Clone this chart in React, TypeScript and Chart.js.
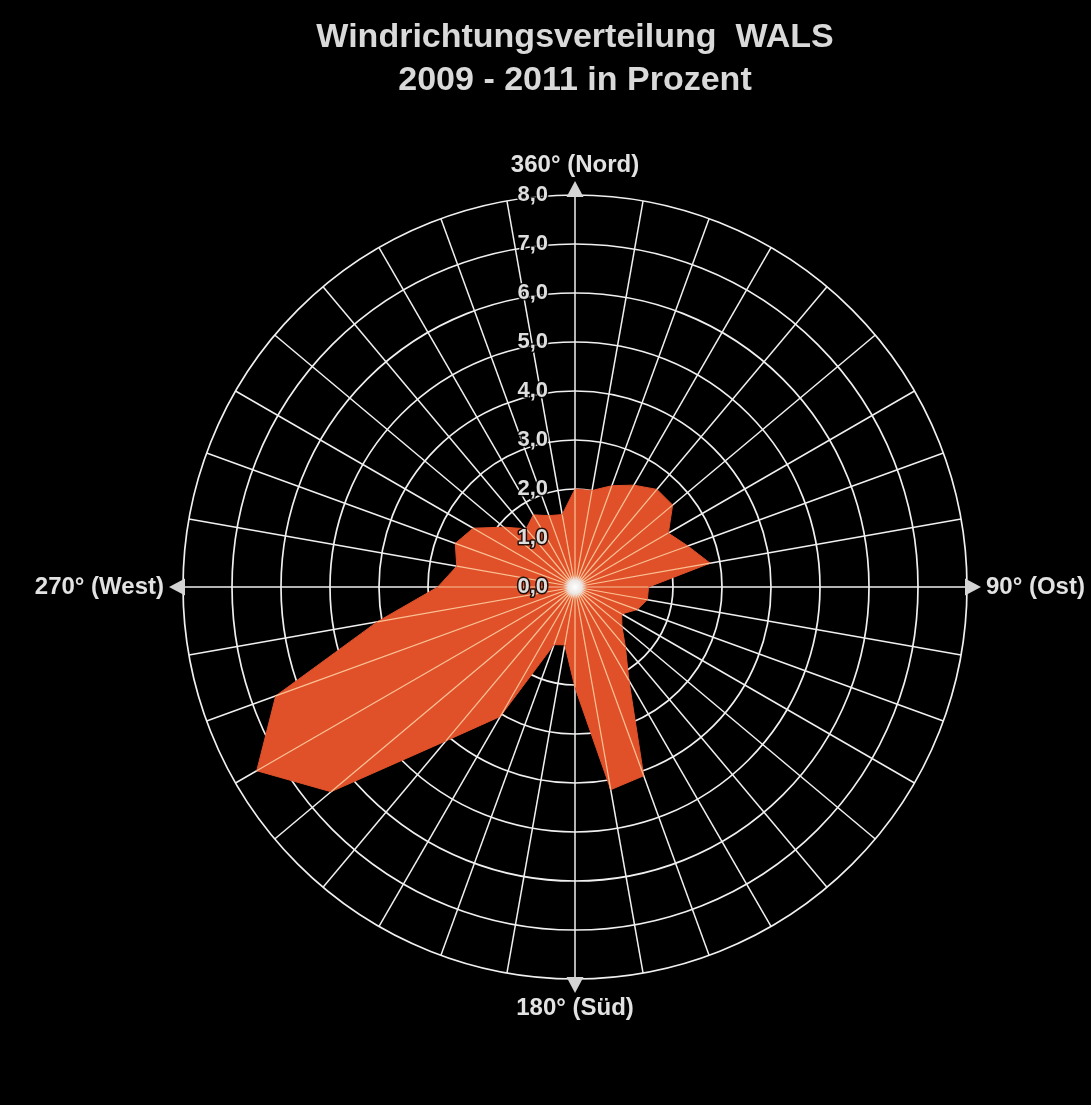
import React, { useEffect, useRef } from 'react';
import { Chart, registerables } from 'chart.js';

Chart.register(...registerables);

// Wind direction categories (degrees), starting at North, clockwise
const directions = [360, 10, 20, 30, 40, 50, 60, 70, 80, 90, 100, 110, 120, 130, 140, 150, 160, 170,
  180, 190, 200, 210, 220, 230, 240, 250, 260, 270, 280, 290, 300, 310, 320, 330, 340, 350];
const labels = directions.map((d) => `${d}°`);

// Frequency in percent per direction
const frequency = [2.0, 2.0, 2.2, 2.4, 2.6, 2.6, 2.2, 2.45, 2.8, 1.5, 1.5, 1.35, 1.1, 1.25, 1.6, 2.2, 4.1, 4.2,
  2.05, 1.2, 1.25, 3.05, 4.1, 6.5, 7.5, 6.5, 4.1, 2.8, 2.45, 2.6, 2.4, 1.9, 1.55, 1.7, 1.55, 1.5];

// Radial tick values
const tickValues = [0, 1, 2, 3, 4, 5, 6, 7, 8];

// Compass annotations
const compassIndices = [0, 9, 18, 27];
const compassTexts = ['360° (Nord)', '90° (Ost)', '180° (Süd)', '270° (West)'];

const titleLines = ['Windrichtungsverteilung  WALS', '2009 - 2011 in Prozent'];

const FONT = '"Liberation Sans", Arial, Helvetica, sans-serif';

const overlayPlugin = {
  id: 'windroseOverlay',
  afterDatasetsDraw(chart: any) {
    const ctx = chart.ctx as CanvasRenderingContext2D;
    const r = chart.scales.r;
    const cx = r.xCenter;
    const cy = r.yCenter;
    const meta = chart.getDatasetMeta(0);
    ctx.save();

    // spokes drawn over the filled area
    ctx.strokeStyle = 'rgba(255, 214, 168, 0.85)';
    ctx.lineWidth = 1.2;
    meta.data.forEach((pt: any) => {
      ctx.beginPath();
      ctx.moveTo(cx, cy);
      ctx.lineTo(pt.x, pt.y);
      ctx.stroke();
    });

    // centre glow
    const g = ctx.createRadialGradient(cx, cy, 0, cx, cy, 12);
    g.addColorStop(0, 'rgba(255,255,255,1)');
    g.addColorStop(0.55, 'rgba(235,235,235,0.95)');
    g.addColorStop(1, 'rgba(230,230,230,0)');
    ctx.fillStyle = g;
    ctx.beginPath();
    ctx.arc(cx, cy, 12, 0, Math.PI * 2);
    ctx.fill();

    // tick labels along the north axis
    ctx.font = `bold 22px ${FONT}`;
    ctx.textAlign = 'right';
    ctx.textBaseline = 'middle';
    ctx.lineJoin = 'round';
    tickValues.forEach((v) => {
      const d = r.getDistanceFromCenterForValue(v);
      const txt = v.toFixed(1).replace('.', ',');
      const x = cx - 27;
      const y = cy - d;
      ctx.lineWidth = 3;
      ctx.strokeStyle = 'rgba(0,0,0,0.85)';
      ctx.strokeText(txt, x, y);
      ctx.fillStyle = '#dedede';
      ctx.fillText(txt, x, y);
    });

    // arrows at the four main axes
    const R = r.drawingArea;
    ctx.fillStyle = '#d4d4d4';
    compassIndices.forEach((idx) => {
      const apex = r.getPointPosition(idx, R + 14);
      const base = r.getPointPosition(idx, R - 2);
      const ang = Math.atan2(apex.y - base.y, apex.x - base.x);
      const hw = 8.5;
      const px = -Math.sin(ang) * hw;
      const py = Math.cos(ang) * hw;
      ctx.beginPath();
      ctx.moveTo(apex.x, apex.y);
      ctx.lineTo(base.x + px, base.y + py);
      ctx.lineTo(base.x - px, base.y - py);
      ctx.closePath();
      ctx.fill();
    });

    // compass labels
    ctx.font = `bold 24px ${FONT}`;
    ctx.fillStyle = '#e2e2e2';
    ctx.textBaseline = 'middle';
    compassIndices.forEach((idx, k) => {
      const txt = compassTexts[k];
      let pos;
      if (idx === 0) {
        pos = r.getPointPosition(idx, R + 30);
        ctx.textAlign = 'center';
      } else if (idx === 9) {
        pos = r.getPointPosition(idx, R + 19);
        ctx.textAlign = 'left';
      } else if (idx === 18) {
        pos = r.getPointPosition(idx, R + 29);
        ctx.textAlign = 'center';
      } else {
        pos = r.getPointPosition(idx, R + 19);
        ctx.textAlign = 'right';
      }
      ctx.fillText(txt, pos.x, pos.y);
    });

    ctx.restore();
  },
};

export default function App() {
  const canvasRef = useRef<HTMLCanvasElement | null>(null);

  useEffect(() => {
    if (!canvasRef.current) return;
    const chart = new Chart(canvasRef.current, {
      type: 'radar',
      data: {
        labels,
        datasets: [
          {
            label: 'Windrichtung',
            data: frequency,
            backgroundColor: '#e0512a',
            borderColor: '#e0512a',
            borderWidth: 1,
            pointRadius: 0,
            pointHoverRadius: 0,
            fill: true,
            tension: 0,
          },
        ],
      },
      options: {
        responsive: false,
        animation: false,
        devicePixelRatio: 1,
        layout: { padding: { left: 183, right: 124, top: 0, bottom: 125 } },
        plugins: {
          legend: { display: false },
          tooltip: { enabled: false },
          title: {
            display: true,
            text: titleLines,
            color: '#d9d9d9',
            font: { family: FONT, size: 34, weight: 'bold', lineHeight: 1.24 },
            padding: { top: 17, bottom: 94 },
          },
        },
        scales: {
          r: {
            min: 0,
            max: 8,
            ticks: { display: false, stepSize: 1 },
            pointLabels: { display: false },
            grid: { circular: true, color: '#f0f0f0', lineWidth: 1.7 },
            angleLines: { display: true, color: '#f0f0f0', lineWidth: 1.5 },
          },
        },
      },
      plugins: [overlayPlugin],
    });
    return () => chart.destroy();
  }, []);

  return (
    <div style={{ position: 'fixed', left: 0, top: 0, width: 1091, height: 1105, background: '#000' }}>
      <canvas ref={canvasRef} width={1091} height={1105} style={{ display: 'block' }} />
    </div>
  );
}
